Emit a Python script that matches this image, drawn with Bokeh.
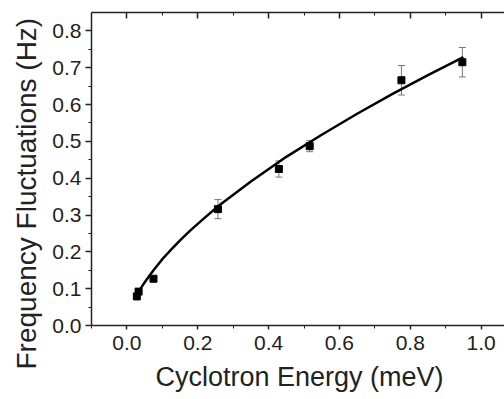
from bokeh.plotting import figure
from bokeh.models import (Range1d, LinearAxis, SingleIntervalTicker, PrintfTickFormatter,
                          CustomJSTickFormatter, Whisker, TeeHead, ColumnDataSource, Title)
from bokeh.embed import file_html
from bokeh.resources import INLINE

# data
energy = [0.028, 0.033, 0.075, 0.257, 0.429, 0.516, 0.775, 0.947]
fluct = [0.079, 0.092, 0.127, 0.316, 0.425, 0.487, 0.666, 0.715]
fluct_err = [0.004, 0.004, 0.004, 0.026, 0.022, 0.015, 0.040, 0.040]

fit_x = [0.03, 0.04, 0.05, 0.065, 0.08, 0.10, 0.12, 0.15, 0.18, 0.22, 0.26, 0.35,
         0.45, 0.55, 0.65, 0.75, 0.85, 0.95]
fit_y = [0.085, 0.102, 0.117, 0.137, 0.156, 0.180, 0.201, 0.231, 0.259, 0.293, 0.326,
         0.391, 0.458, 0.518, 0.575, 0.629, 0.680, 0.729]

x_label = "Cyclotron Energy (meV)"
y_label = "Frequency Fluctuations (Hz)"

FONT = "Liberation Sans"
AXC = "#222222"

p = figure(width=504, height=399, output_backend="svg", toolbar_location=None,
           x_range=Range1d(-0.1, 1.066), y_range=Range1d(0.0, 0.85),
           x_axis_location=None, y_axis_location=None,
           min_border_left=91, min_border_right=0, min_border_top=12, min_border_bottom=73)
p.outline_line_color = None
p.xgrid.visible = False
p.ygrid.visible = False
p.background_fill_color = "white"
p.border_fill_color = "white"

xt = SingleIntervalTicker(interval=0.2, num_minor_ticks=2)
yt = SingleIntervalTicker(interval=0.1, num_minor_ticks=2)

bottom = LinearAxis(ticker=xt, formatter=PrintfTickFormatter(format="%.1f"))
bottom.axis_line_color = AXC
bottom.axis_line_width = 1.5
bottom.major_tick_line_color = AXC
bottom.minor_tick_line_color = AXC
bottom.major_tick_line_width = 1.5
bottom.major_tick_out = 4
bottom.major_tick_in = 0
bottom.minor_tick_out = 3
bottom.minor_tick_in = 0
bottom.major_label_text_font = FONT
bottom.major_label_text_font_size = "21px"
bottom.major_label_text_color = AXC
bottom.major_label_standoff = 6
p.add_layout(bottom, "below")

# x axis title as a side title so that it can be shifted along the axis
p.add_layout(Title(text=x_label, align="left", offset=64, vertical_align="bottom",
                   text_font=FONT, text_font_size="27px", text_font_style="normal",
                   text_color=AXC, standoff=15), "below")

left = LinearAxis(ticker=yt, formatter=PrintfTickFormatter(format="%.1f"))
left.axis_line_color = AXC
left.axis_line_width = 1.5
left.major_tick_line_color = AXC
left.minor_tick_line_color = AXC
left.major_tick_line_width = 1.5
left.major_tick_out = 6
left.major_tick_in = 0
left.minor_tick_out = 3
left.minor_tick_in = 0
left.major_label_text_font = FONT
left.major_label_text_font_size = "21px"
left.major_label_text_color = AXC
left.major_label_standoff = 4
p.add_layout(left, "left")

# y axis title as a side title so that it can be shifted along the axis
p.add_layout(Title(text=y_label, align="left", offset=-44, vertical_align="bottom",
                   text_font=FONT, text_font_size="28px", text_font_style="normal",
                   text_color=AXC, standoff=16), "left")

top = LinearAxis(ticker=SingleIntervalTicker(interval=0.2, num_minor_ticks=2),
                 formatter=CustomJSTickFormatter(code="return ''"))
top.axis_line_color = AXC
top.axis_line_width = 1.5
top.major_tick_line_color = AXC
top.minor_tick_line_color = AXC
top.major_tick_line_width = 1.5
top.major_tick_out = 0
top.major_tick_in = 6
top.minor_tick_out = 0
top.minor_tick_in = 3
top.major_label_standoff = 0
p.add_layout(top, "above")

src = ColumnDataSource(dict(x=energy, y=fluct,
                            lo=[a - b for a, b in zip(fluct, fluct_err)],
                            hi=[a + b for a, b in zip(fluct, fluct_err)]))

p.add_layout(Whisker(base="x", lower="lo", upper="hi", source=src,
                     line_color="#777777", line_width=1,
                     upper_head=TeeHead(size=7, line_color="#777777", line_width=1),
                     lower_head=TeeHead(size=7, line_color="#777777", line_width=1)))

p.line(fit_x, fit_y, line_color="black", line_width=2.5)
p.scatter("x", "y", source=src, marker="square", size=7, fill_color="black", line_color="black")

open("out.html", "w").write(file_html(p, INLINE))
